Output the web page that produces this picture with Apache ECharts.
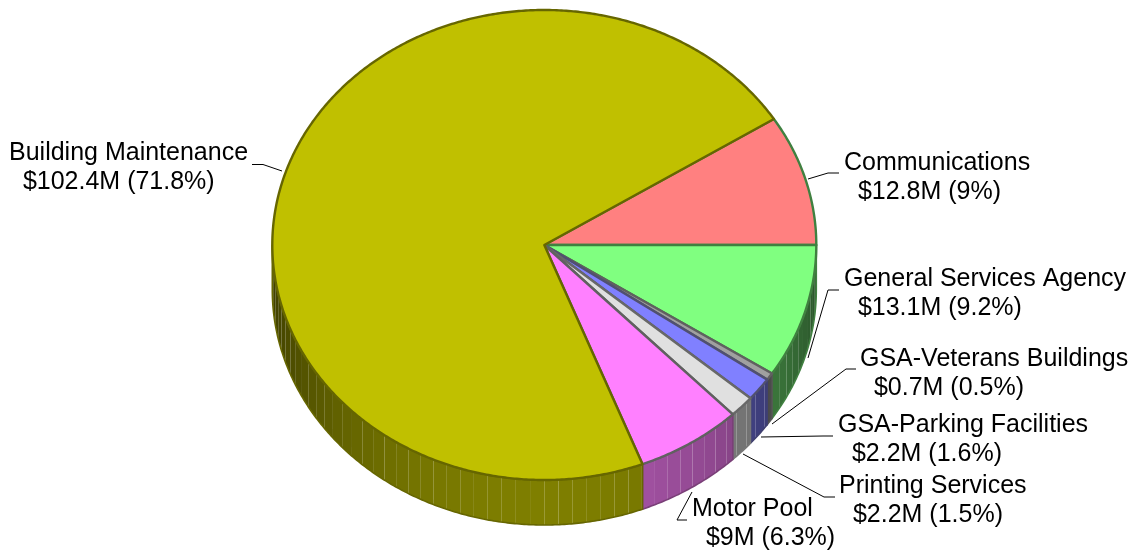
<!DOCTYPE html>
<html><head><meta charset="utf-8">
<style>html,body{margin:0;padding:0;background:#fff}#c{width:1138px;height:550px}</style>
<script src="https://cdn.jsdelivr.net/npm/echarts@6/dist/echarts.min.js"></script>
</head><body><div id="c"></div>
<script>
// Data, clockwise, Communications ends at the 3 o'clock direction
const categories = ['Communications','General Services Agency','GSA-Veterans Buildings','GSA-Parking Facilities','Printing Services','Motor Pool','Building Maintenance'];
const amounts = ['$12.8M','$13.1M','$0.7M','$2.2M','$2.2M','$9M','$102.4M'];
const percents = [9,9.2,0.5,1.6,1.5,6.3,71.8];
// Styling and layout
const fills = ['#ff8080','#80ff80','#a0a0a0','#8080ff','#e0e0e0','#ff80ff','#c0c000'];
const borders = ['#408040','#408040','#606060','#505070','#686868','#606060','#666600'];
const wallBorders = ['#408040','#408040','#555555','#404070','#777777','#7a3f78','#666600'];
const labelPos = [[844,148.5],[844,264.5],[860,344.5],[838,410.5],[839,471.5],[692,494.5],[9,138.5]];
const leaders = [
 [[808,179],[828,173],[839,173]],
 [[808,358],[828,290],[839,290]],
 [[772,424],[846,369],[856,369]],
 [[761,437],[823,436],[833,436]],
 [[743,454],[824,497],[835,497]],
 [[692,492],[677,520],[687,520]],
 [[282,171],[263,164.5],[252,164.5]]
];
const CX=544.3, CY=245, RX=272, RY=235, DEPTH=45, FACET=3;
const total = percents.reduce((a,b)=>a+b,0);
function spans(){let a=-percents[0]/total*360;return percents.map(p=>{const s=a;a+=p/total*360;return [s,a];});}
const ang = spans();
const pt=(d,dy)=>{const r=d*Math.PI/180;return [CX+RX*Math.cos(r),CY+RY*Math.sin(r)+(dy||0)];};
function shade(hex,f){const n=parseInt(hex.slice(1),16);const c=[n>>16,(n>>8)&255,n&255].map(v=>Math.round(v*f));return `rgb(${c.join(',')})`;}
function arcPts(s,e,dy){const o=[];const n=Math.max(2,Math.ceil((e-s)/0.5));for(let i=0;i<=n;i++)o.push(pt(s+(e-s)*i/n,dy));return o;}

function renderWall(params,api){
  const i=params.dataIndex; const s=Math.max(ang[i][0],0), e=Math.min(ang[i][1],180);
  if(s>=180||e<=0) return {type:'group',children:[]};
  const ch=[];
  let a=s;
  while(a<e-1e-6){
    let b=(Math.floor(a/FACET+1e-6)+1)*FACET; if(b>e)b=e;
    const m=(a+b)/2, f=0.33+0.33*Math.pow(Math.sin(m*Math.PI/180),1.5);
    const p1=pt(a),p2=pt(b),p3=pt(b,DEPTH),p4=pt(a,DEPTH);
    ch.push({type:'polygon',shape:{points:[p1,p2,p3,p4]},style:{fill:shade(fills[i],f),stroke:null}});
    a=b;
  }
  const top=arcPts(s,e,0), bot=arcPts(s,e,DEPTH).reverse();
  ch.push({type:'polygon',shape:{points:top.concat(bot)},style:{fill:'none',stroke:wallBorders[i],lineWidth:1.6,lineJoin:'round'}});
  return {type:'group',children:ch};
}
function renderTop(params,api){
  const i=params.dataIndex; const s=ang[i][0], e=ang[i][1];
  return {type:'polygon',shape:{points:[[CX,CY]].concat(arcPts(s,e,0))},
    style:{fill:fills[i],stroke:borders[i],lineWidth:2.4,lineJoin:'round'}};
}
function renderLabel(params,api){
  const i=params.dataIndex;
  return {type:'group',children:[
    {type:'polyline',shape:{points:leaders[i]},style:{fill:'none',stroke:'#000',lineWidth:1}},
    {type:'text',x:labelPos[i][0],y:labelPos[i][1],style:{
      text:categories[i]+'\n  '+amounts[i]+' ('+percents[i]+'%)',
      font:'25px "Liberation Sans"',lineHeight:29,fill:'#000',align:'left',verticalAlign:'top'}}
  ]};
}
const rows=categories.map((c,i)=>({name:c,value:percents[i]}));
const chart=echarts.init(document.getElementById('c'),null,{renderer:'canvas'});
chart.setOption({
  animation:false,
  backgroundColor:'#fff',
  series:[
    {type:'custom',coordinateSystem:'none',z:1,silent:true,data:rows,renderItem:renderWall},
    {type:'custom',coordinateSystem:'none',z:2,silent:true,data:rows,renderItem:renderTop},
    {type:'custom',coordinateSystem:'none',z:3,silent:true,data:rows,renderItem:renderLabel}
  ]
});
</script></body></html>
